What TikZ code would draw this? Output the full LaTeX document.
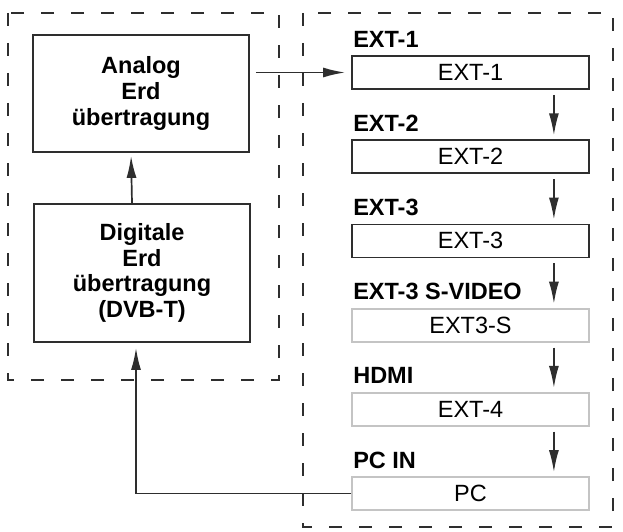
\documentclass[tikz,border=0pt]{standalone}
\usepackage{fontspec}
\setmainfont{Liberation Sans}
\usepackage{tikz}
\usetikzlibrary{arrows.meta,positioning,calc}
\definecolor{tdark}{HTML}{2E2E2E}
\definecolor{tlight}{HTML}{C4C4C4}
\tikzset{
  >={Latex[length=22pt,width=10pt]},
  tframe/.style={draw=tdark, dash pattern=on 13pt off 17pt, line width=1.8pt},
  tsrc/.style={rectangle, draw=tdark, fill=white, line width=1.8pt,
               minimum width=216pt, align=center, inner sep=0pt,
               font=\fontsize{23.5}{25.7}\selectfont\bfseries},
  tin/.style={rectangle, draw=tdark, fill=white, line width=1.8pt,
              minimum width=237pt, minimum height=33pt, inner sep=0pt,
              font=\fontsize{23.5}{25}\selectfont},
  tinlt/.style={tin, draw=tlight},
  tlbl/.style={anchor=base west, inner sep=0pt,
               font=\fontsize{23.5}{25}\selectfont\bfseries},
  tflow/.style={->, tdark, line width=1.7pt},
}

\begin{document}
\begin{tikzpicture}[x=1pt, y=-1pt]

  \useasboundingbox (0,0) rectangle (623,532);

  % molduras tracejadas
  \draw[tframe] (8,13) rectangle (279,380);
  \draw[tframe] (303,13) rectangle (613,527);

  % fontes de sinal
  \node[tsrc, minimum height=117pt] (analog) at (141,93.5)
       {Analog\\Erd\\übertragung};
  \node[tsrc, minimum height=138pt] (digital) at (142,273)
       {Digitale\\Erd\\übertragung\\(DVB-T)};

  % entradas
  \foreach \nm/\lbl/\txt/\sty [count=\i from 0] in
      {ext1/EXT-1/EXT-1/tin, ext2/EXT-2/EXT-2/tin, ext3/EXT-3/EXT-3/tin,
       exts/EXT-3 S-VIDEO/EXT3-S/tinlt, ext4/HDMI/EXT-4/tinlt, pc/PC IN/PC/tinlt}
  {
    \node[\sty] (\nm) at (470.5,72.5+84.2*\i) {\txt};
    \node[tlbl] (\nm-l) at ($(\nm.north west)+(2,-8)$) {\lbl};
  }

  % ligações entre entradas
  \foreach \a/\b in {ext1/ext2, ext2/ext3, ext3/exts, exts/ext4, ext4/pc}
    \draw[tflow, shorten <=5pt, shorten >=4pt]
      ($(\a.south east)+(-36,0)$) -- ($(\b.north east)+(-36,0)$);

  % fluxo do sinal
  \draw[tflow, shorten <=6pt, shorten >=6pt] (analog.east |- ext1.west) -- (ext1.west);
  \draw[tflow, shorten >=3pt] ($(digital.north)+(-10,0)$) -- ($(analog.south)+(-10,0)$);
  \draw[tflow, shorten >=5pt] (pc.west) -| ($(digital.south)+(-6,0)$);

\end{tikzpicture}
\end{document}
